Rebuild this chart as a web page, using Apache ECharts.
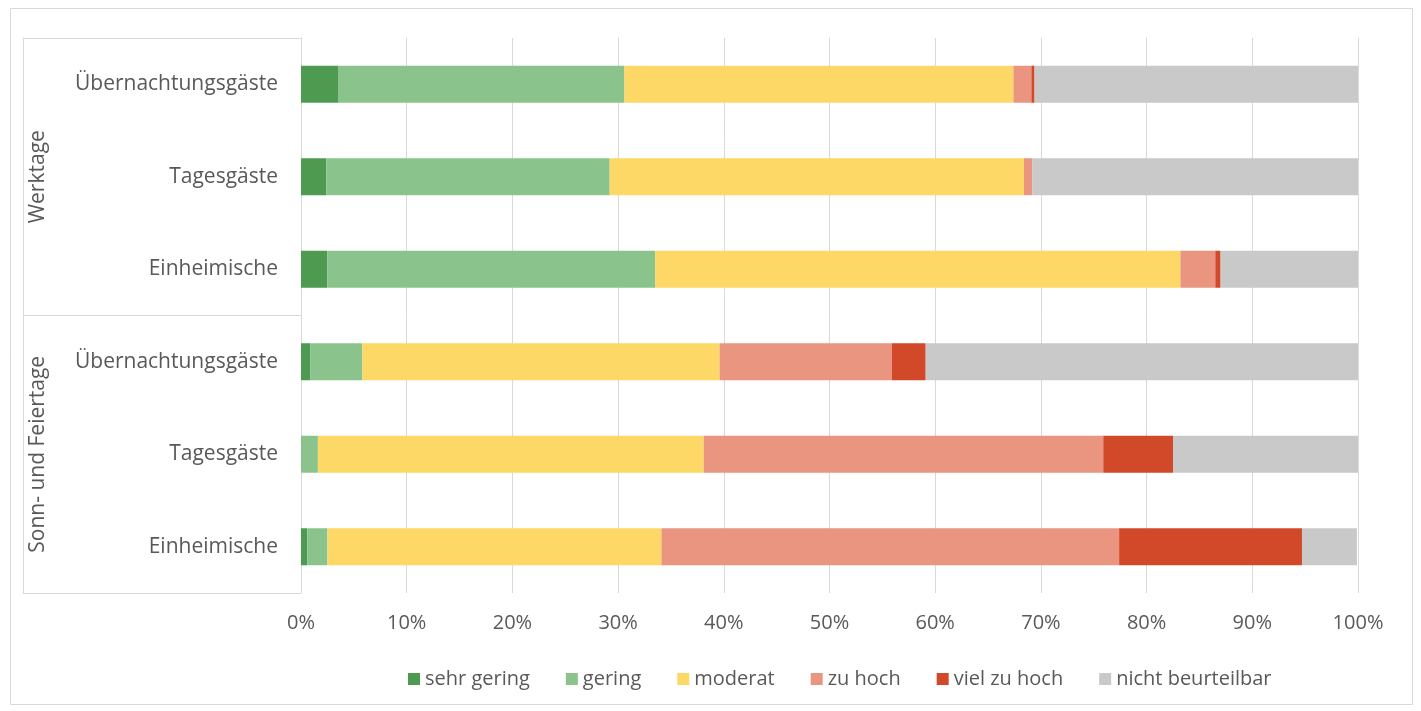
<!DOCTYPE html>
<html lang="de">
<head>
<meta charset="utf-8">
<title>Bewertung der Auslastung</title>
<script src="https://cdn.jsdelivr.net/npm/echarts@6/dist/echarts.min.js"></script>
<style>
  html, body { margin: 0; padding: 0; background: #ffffff; }
  #chart { width: 1421px; height: 711px; }
</style>
</head>
<body>
<div id="chart"></div>
<script>
// Row labels, top to bottom
const categories = [
  'Übernachtungsgäste', 'Tagesgäste', 'Einheimische',
  'Übernachtungsgäste', 'Tagesgäste', 'Einheimische'
];
// Groups covering three rows each
const groups = ['Werktage', 'Sonn- und Feiertage'];

const seriesNames = ['sehr gering', 'gering', 'moderat', 'zu hoch', 'viel zu hoch', 'nicht beurteilbar'];

// Shares in percent, one value per row
const sehrGering       = [3.5, 2.4, 2.5, 0.9, 0.0, 0.6];
const gering           = [27.1, 26.8, 31.0, 4.9, 1.6, 1.9];
const moderat          = [36.8, 39.2, 49.7, 33.8, 36.5, 31.6];
const zuHoch           = [1.7, 0.8, 3.3, 16.3, 37.8, 43.3];
const vielZuHoch       = [0.3, 0.0, 0.5, 3.2, 6.6, 17.3];
const nichtBeurteilbar = [30.6, 30.8, 13.0, 41.0, 17.5, 5.2];

const xTicks = [0, 10, 20, 30, 40, 50, 60, 70, 80, 90, 100];

const colors = ['#4e9a51', '#8ac48c', '#fdd866', '#e99580', '#d14928', '#c9c9c9'];
const values = [sehrGering, gering, moderat, zuHoch, vielZuHoch, nichtBeurteilbar];

const FONT = '"Open Sans", Lato, sans-serif';
const TEXT = '#595959';
const LINE = '#d9d9d9';

const chart = echarts.init(document.getElementById('chart'), null, { renderer: 'canvas' });

chart.setOption({
  animation: false,
  backgroundColor: '#ffffff',
  textStyle: { fontFamily: FONT },
  graphic: [{
    type: 'rect',
    shape: { x: 10.5, y: 8.5, width: 1402, height: 696 },
    style: { fill: 'none', stroke: LINE, lineWidth: 1 },
    silent: true
  }],
  grid: { left: 301, right: 63, top: 38, bottom: 118, containLabel: false },
  legend: {
    bottom: 17,
    left: 403,
    itemWidth: 12,
    itemHeight: 12,
    itemGap: 36,
    icon: 'rect',
    textStyle: { fontFamily: FONT, fontSize: 20, color: TEXT },
    data: seriesNames
  },
  xAxis: {
    type: 'value',
    min: xTicks[0],
    max: xTicks[xTicks.length - 1],
    interval: 10,
    axisLine: { show: false },
    axisTick: { show: false },
    splitLine: { show: true, lineStyle: { color: LINE, width: 1 } },
    axisLabel: {
      formatter: v => v + '%',
      fontFamily: FONT, fontSize: 20, color: TEXT, margin: 20
    }
  },
  yAxis: [{
    type: 'category',
    inverse: true,
    data: categories.map((c, i) => i),
    axisLine: { show: true, lineStyle: { color: LINE } },
    axisTick: { show: false },
    axisLabel: {
      formatter: (v, i) => categories[i],
      fontFamily: FONT, fontSize: 21, color: TEXT, margin: 23,
      padding: [5, 0, 0, 0]
    }
  }, {
    type: 'category',
    position: 'left',
    offset: 278,
    inverse: true,
    boundaryGap: true,
    data: groups,
    axisLine: { show: true, lineStyle: { color: LINE } },
    axisTick: { show: true, inside: true, length: 278, alignWithLabel: false, lineStyle: { color: LINE } },
    axisLabel: {
      inside: true,
      rotate: 90,
      margin: 5,
      fontFamily: FONT, fontSize: 21, color: TEXT
    }
  }],
  series: seriesNames.map((name, k) => ({
    name,
    type: 'bar',
    stack: 'total',
    yAxisIndex: 0,
    barWidth: 37,
    itemStyle: { color: colors[k] },
    emphasis: { disabled: true },
    data: values[k]
  }))
});
</script>
</body>
</html>
